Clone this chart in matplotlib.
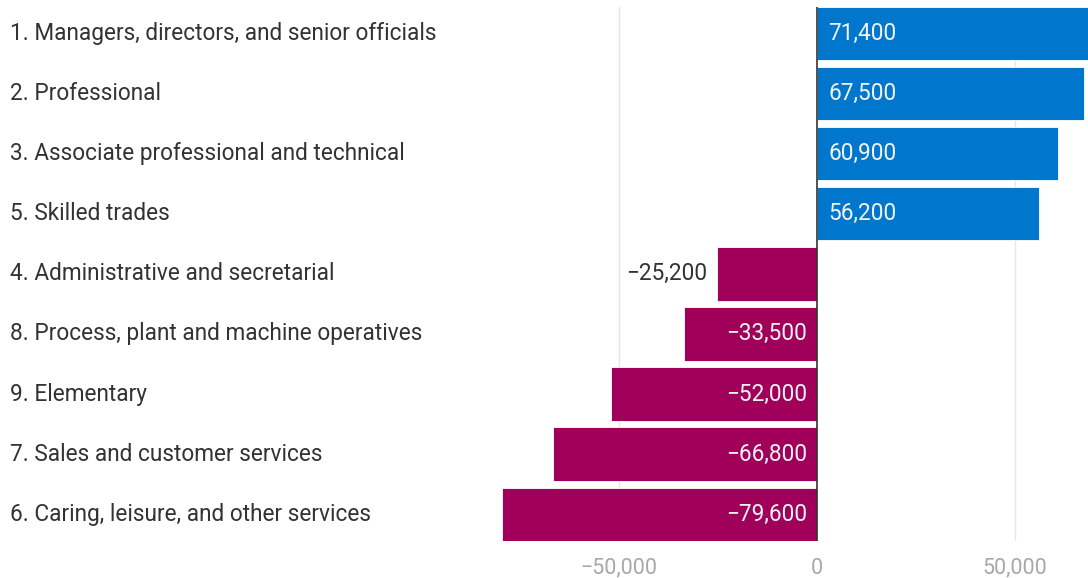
import matplotlib.pyplot as plt
from matplotlib.transforms import blended_transform_factory, offset_copy

plt.rcParams['font.family'] = ['Roboto', 'DejaVu Sans']

# Change in employment by occupation group
categories = [
    "1. Managers, directors, and senior officials",
    "2. Professional",
    "3. Associate professional and technical",
    "5. Skilled trades",
    "4. Administrative and secretarial",
    "8. Process, plant and machine operatives",
    "9. Elementary",
    "7. Sales and customer services",
    "6. Caring, leisure, and other services",
]
values = [71400, 67500, 60900, 56200, -25200, -33500, -52000, -66800, -79600]
tick_values = [-50000, 0, 50000]
tick_labels = ["\u221250,000", "0", "50,000"]

BLUE = "#0077cc"
MAGENTA = "#a0005a"
BAR_H = 0.89


def fmt(v):
    s = f"{abs(v):,}"
    return ("\u2212" + s) if v < 0 else s


W, H = 1088, 578
fig = plt.figure(figsize=(W / 100, H / 100), dpi=100)
ax = fig.add_axes([502 / W, 37 / H, 1 - 502 / W, 534.3 / H])

ys = list(range(len(categories)))
colors = [BLUE if v > 0 else MAGENTA for v in values]
ax.barh(ys, values, height=BAR_H, color=colors, edgecolor="white",
        linewidth=0.6, zorder=2)

ax.set_xlim(-79600, 68500)
ax.set_ylim(len(categories) - 1 + BAR_H / 2, -BAR_H / 2)

for x in tick_values:
    if x == 0:
        ax.axvline(0, color="#333333", linewidth=1.2, zorder=3)
    else:
        ax.axvline(x, color="#e6e6e6", linewidth=1, zorder=1)

ax.set_xticks(tick_values)
ax.set_xticklabels(tick_labels)
ax.tick_params(axis="x", length=0, pad=12, labelsize=15.5, labelcolor="#a8a8a8")
ax.set_yticks([])
for s in ax.spines.values():
    s.set_visible(False)

# category names on the left, aligned to the figure edge
trans = blended_transform_factory(fig.transFigure, ax.transData)
for y, name in zip(ys, categories):
    ax.text(10 / W, y, name, transform=trans, ha="left", va="center",
            fontsize=16.3, color="#333333", clip_on=False)

# value labels
right = offset_copy(ax.transData, fig=fig, x=8, y=0, units="points")
left = offset_copy(ax.transData, fig=fig, x=-7, y=0, units="points")
for y, v in zip(ys, values):
    if v > 0:
        ax.text(0, y, fmt(v), transform=right, ha="left", va="center",
                fontsize=16.3, color="#f2f2f2", zorder=4)
    elif v > -30000:
        ax.text(v, y, fmt(v), transform=left, ha="right", va="center",
                fontsize=16.3, color="#333333", zorder=4)
    else:
        ax.text(0, y, fmt(v), transform=left, ha="right", va="center",
                fontsize=16.3, color="#f2f2f2", zorder=4)

fig.savefig("out.png", dpi=100)
